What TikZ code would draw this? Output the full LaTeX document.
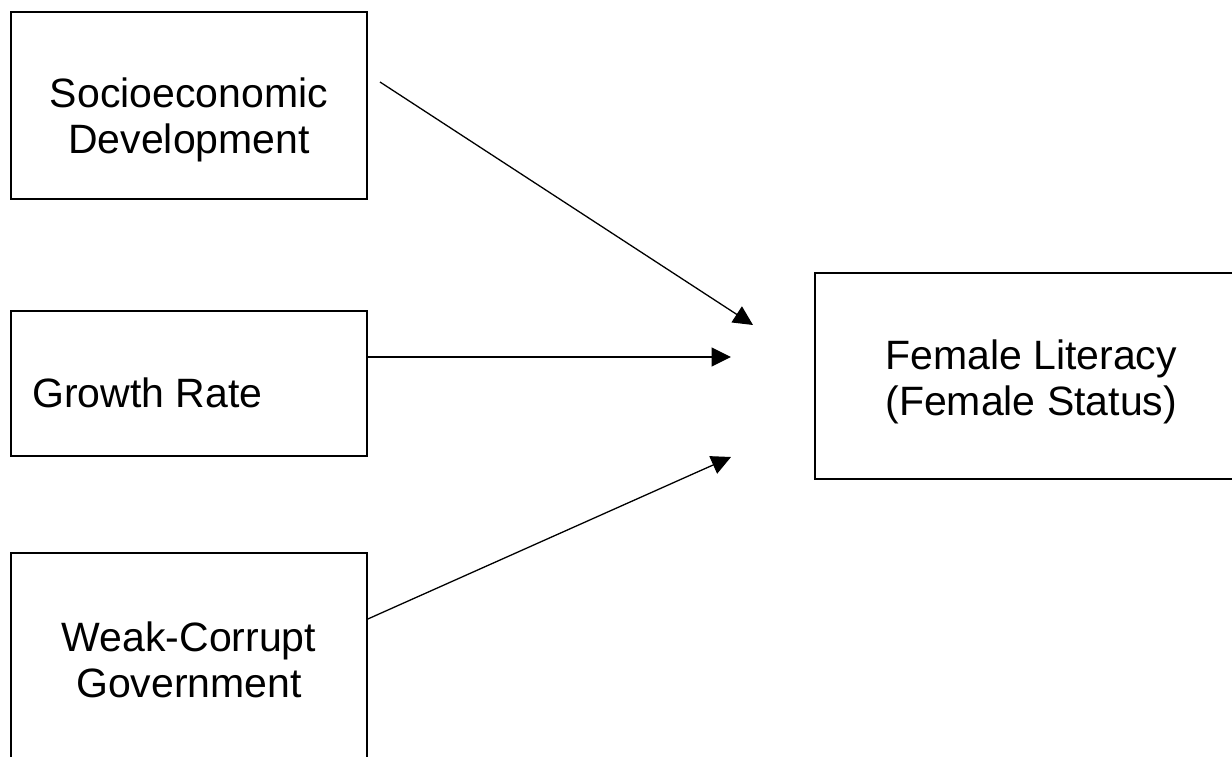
\documentclass[tikz,border=0pt]{standalone}
\usepackage{fontspec}
\setmainfont{Liberation Sans}
\usetikzlibrary{calc,arrows.meta}

\begin{document}
\begin{tikzpicture}[x=1pt,y=-1pt,
  box/.style={draw, line width=1.6pt, inner sep=0pt},
  lbl/.style={font=\fontsize{41}{46}\selectfont, align=center, inner sep=0pt},
  arr/.style={line width=1.3pt, -{Triangle[length=19.5pt,width=19pt]}}]
\clip (0,0) rectangle (1232,757);
\fill[white] (0,0) rectangle (1232,757);

\node[box, minimum width=356pt, minimum height=187pt] (socio) at (189,105.5) {}; %%TopLeft
\node[box, minimum width=356pt, minimum height=145pt] (growth) at (189,383.5) {}; %%MidLeft
\node[box, minimum width=356pt, minimum height=300pt] (weak) at (189,703) {}; %%BottomLeft
\node[box, minimum width=500pt, minimum height=206pt] (female) at (1065,376) {}; %%Right

\node[lbl, anchor=base] (sociotext) at ($(socio.north)+(0,142)$) {Socioeconomic\\Development};
\node[lbl, anchor=base west] (growthtext) at ($(growth.north west)+(22,97)$) {Growth Rate};
\node[lbl, anchor=base] (weaktext) at ($(weak.north)+(0,145)$) {Weak-Corrupt\\Government};
\node[lbl, anchor=base] (femaletext) at ($(female.north west)+(217,143)$) {Female Literacy\\(Female Status)};

\coordinate (sociotail) at (380,82);
\coordinate (sociohead) at (753,325);
\coordinate (growthhead) at (731,357);
\coordinate (weaktail) at (367,619);
\coordinate (weakhead) at (731,457);

\draw[arr] (sociotail) -- (sociohead);
\draw[arr] (growth.east |- growthhead) -- (growthhead);
\draw[arr] (weak.east |- weaktail) -- (weakhead);
\end{tikzpicture}
\end{document}
